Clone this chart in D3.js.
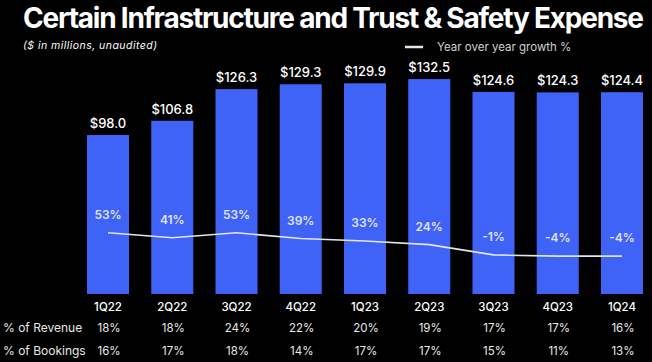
<!DOCTYPE html>
<html>
<head>
<meta charset="utf-8">
<script src="https://cdn.jsdelivr.net/npm/d3@7"></script>
<style>
  html, body { margin: 0; padding: 0; background: #000; }
  svg { display: block; }
</style>
</head>
<body>
<svg width="652" height="362"></svg>
<script>
// data
const quarters = ["1Q22", "2Q22", "3Q22", "4Q22", "1Q23", "2Q23", "3Q23", "4Q23", "1Q24"];
const expense = [98.0, 106.8, 126.3, 129.3, 129.9, 132.5, 124.6, 124.3, 124.4];
const growth = [53, 41, 53, 39, 33, 24, -1, -4, -4];
const pctRevenue = [18, 18, 24, 22, 20, 19, 17, 17, 16];
const pctBookings = [16, 17, 18, 14, 17, 17, 15, 11, 13];

const svg = d3.select("svg");
const font = "Inter, 'Noto Sans', sans-serif";
const barColor = "#3f63f6";

// title (textLength lets the browser fit the width with the real font)
svg.append("text")
  .attr("x", 23).attr("y", 28)
  .attr("font-family", font).attr("font-weight", 700)
  .attr("font-size", 28)
  .attr("textLength", 621).attr("lengthAdjust", "spacing")
  .attr("fill", "#fff")
  .text("Certain Infrastructure and Trust & Safety Expense");

svg.append("text")
  .attr("x", 23).attr("y", 49)
  .attr("font-family", font).attr("font-style", "italic")
  .attr("font-size", 10.5)
  .attr("textLength", 134).attr("lengthAdjust", "spacing")
  .attr("fill", "#fff")
  .text("($ in millions, unaudited)");

// legend
svg.append("line")
  .attr("x1", 405).attr("x2", 423).attr("y1", 47).attr("y2", 47)
  .attr("stroke", "#e6e6e6").attr("stroke-width", 2.5);
svg.append("text")
  .attr("x", 437).attr("y", 51)
  .attr("font-family", font).attr("font-size", 11.5)
  .attr("fill", "#d0d0d0")
  .text("Year over year growth %");

// scales
let scX = d3.scaleBand()
  .domain(quarters)
  .range([75.9, 654.1])
  .paddingInner(0.346)
  .paddingOuter(0.173);
let scY = d3.scaleLinear().domain([0, 100]).range([294, 131.8]);
let scG = d3.scaleLinear().domain([0, 50]).range([254.5, 234]);

const cx = q => scX(q) + scX.bandwidth() / 2;

// bars
svg.selectAll(".bar")
  .data(quarters)
  .enter()
  .append("rect")
  .attr("x", d => scX(d))
  .attr("width", scX.bandwidth())
  .attr("y", (d, i) => scY(expense[i]))
  .attr("height", (d, i) => scY(0) - scY(expense[i]))
  .attr("fill", barColor);

// value labels
svg.selectAll(".val")
  .data(quarters)
  .enter()
  .append("text")
  .attr("x", d => cx(d))
  .attr("y", (d, i) => scY(expense[i]) - 7)
  .attr("text-anchor", "middle")
  .attr("font-family", font).attr("font-weight", 500)
  .attr("font-size", 13).attr("fill", "#fff")
  .text((d, i) => "$" + expense[i].toFixed(1));

// growth line
let lineF = d3.line()
  .x((d, i) => cx(quarters[i]))
  .y(d => scG(d));
svg.append("path")
  .datum(growth)
  .attr("d", lineF)
  .attr("fill", "none")
  .attr("stroke", "#e4e4ee")
  .attr("stroke-width", 1.6);

// growth labels
svg.selectAll(".gr")
  .data(growth)
  .enter()
  .append("text")
  .attr("x", (d, i) => cx(quarters[i]))
  .attr("y", d => scG(d) - 14)
  .attr("text-anchor", "middle")
  .attr("font-family", font).attr("font-weight", 600)
  .attr("font-size", 12).attr("fill", "#dfe2f6")
  .text(d => d + "%");

// table under the bars
const rowFont = 11.5;
svg.selectAll(".cat")
  .data(quarters)
  .enter()
  .append("text")
  .attr("x", d => cx(d))
  .attr("y", 311)
  .attr("text-anchor", "middle")
  .attr("font-family", font).attr("font-size", rowFont)
  .attr("font-weight", 500)
  .attr("fill", "#fff")
  .text(d => d);

const rows = [["% of Revenue", pctRevenue, 332], ["% of Bookings", pctBookings, 355]];
rows.forEach(r => {
  svg.append("text")
    .attr("x", 3).attr("y", r[2])
    .attr("font-family", font).attr("font-size", 12)
    .attr("fill", "#e8e8e8")
    .text(r[0]);
  svg.selectAll(null)
    .data(r[1])
    .enter()
    .append("text")
    .attr("x", (d, i) => cx(quarters[i]) + 1)
    .attr("y", r[2])
    .attr("text-anchor", "middle")
    .attr("font-family", font).attr("font-size", rowFont)
    .attr("fill", "#e8e8e8")
    .text(d => d + "%");
});
</script>
</body>
</html>
